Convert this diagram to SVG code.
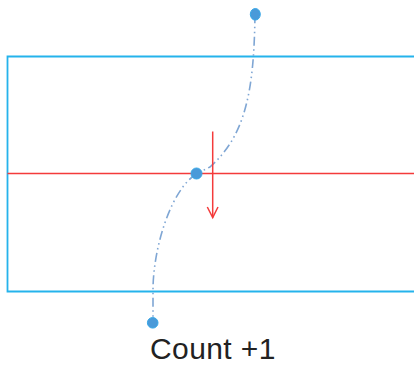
<svg xmlns="http://www.w3.org/2000/svg" width="414" height="372" viewBox="0 0 414 372">
<style>
.dot{fill:#4a9ad9;stroke:#37a8e8;stroke-width:1}
.red{stroke:#f43b3b;stroke-width:1.5;fill:none}
.track{fill:none;stroke:#7fa6d4;stroke-width:1.6;stroke-dasharray:9 3.5 1.5 3.5 1.5 3.5}
</style>
<rect width="414" height="372" fill="#ffffff"/>
<g id="zone">
<path d="M414,56.5 H7.5 V291.5 H414" fill="none" stroke="#25b3ec" stroke-width="1.8"/>
</g>
<g id="line"><line class="red" x1="7.5" y1="173.5" x2="414" y2="173.5"/></g>
<g id="connectors">
<path class="track" d="M255,14 C254,90 246,135 210,167 L197,173.5 C170,190 153,250 153,290 L153,323"/>
<g id="arrow">
<line class="red" x1="212.7" y1="131.5" x2="212.7" y2="217.5"/>
<polyline class="red" points="207.3,207 212.7,217.5 218,207"/>
</g>
</g>
<g id="start"><ellipse class="dot" cx="255.3" cy="14.3" rx="5" ry="5.8"/></g>
<g id="cross"><circle class="dot" cx="196.5" cy="173.5" r="5.5"/></g>
<g id="end"><circle class="dot" cx="152.7" cy="322.8" r="5.3"/></g>
<g id="label"><text x="150" y="359.3" font-family="Liberation Sans, Arial, sans-serif" font-size="30" letter-spacing="0.4" fill="#222222">Count +1</text></g>
</svg>
